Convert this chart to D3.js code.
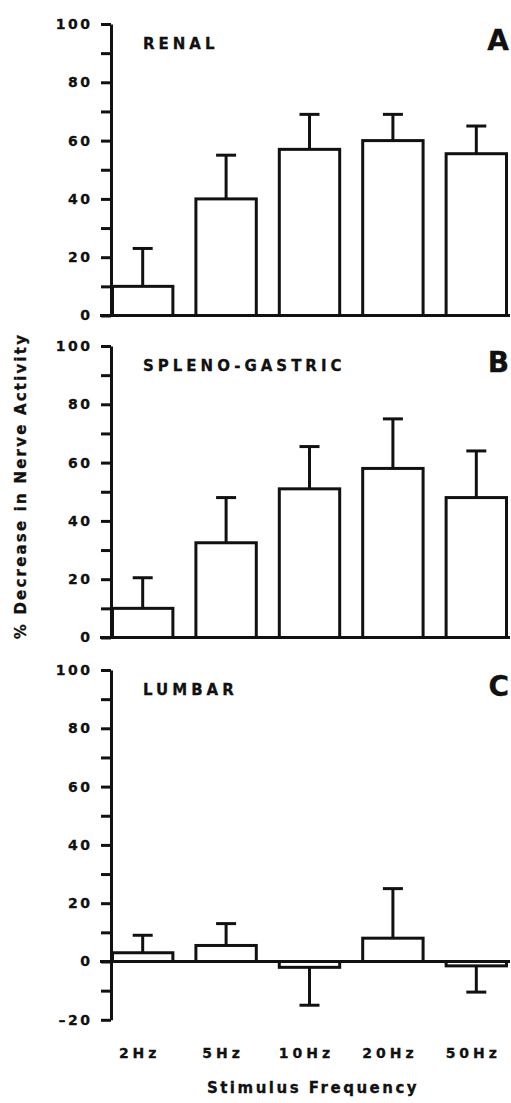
<!DOCTYPE html>
<html>
<head>
<meta charset="utf-8">
<script src="https://cdn.jsdelivr.net/npm/d3@7"></script>
<style>
  body { margin: 0; background: #fff; }
  text { font-family: "DejaVu Sans", sans-serif; font-weight: bold; fill: #111; stroke: #111; stroke-width: 0.3px; }
</style>
</head>
<body>
<svg class="fig" width="511" height="1103"></svg>
<script>
// stimulus frequencies
var categories = ["2Hz", "5Hz", "10Hz", "20Hz", "50Hz"];

// % decrease in nerve activity, mean and error (SE) per panel
var renalMean = [10, 40, 57, 60, 55.5];
var renalErr = [13, 15, 12, 9, 9.5];
var splenoMean = [10, 32.5, 51, 58, 48];
var splenoErr = [10.5, 15.5, 14.5, 17, 16];
var lumbarMean = [3, 5.5, -2, 8, -1.5];
var lumbarErr = [6, 7.5, 13, 17, 9];

var panelNames = ["RENAL", "SPLENO-GASTRIC", "LUMBAR"];
var panelLetters = ["A", "B", "C"];
var tickLabelsAB = [0, 20, 40, 60, 80, 100];
var tickLabelsC = [-20, 0, 20, 40, 60, 80, 100];

var svg = d3.select(".fig");

var axisX = 111;
var pxPerUnit = 2.915;

var x = d3.scaleBand()
    .domain(categories)
    .range([axisX, 508])
    .paddingInner(0.24)
    .paddingOuter(0);

var panels = [
    { top: 24, min: 0, mean: renalMean, err: renalErr, labels: tickLabelsAB },
    { top: 346, min: 0, mean: splenoMean, err: splenoErr, labels: tickLabelsAB },
    { top: 670, min: -20, mean: lumbarMean, err: lumbarErr, labels: tickLabelsC }
];

panels.forEach(function (p, i) {
    var y = d3.scaleLinear()
        .domain([p.min, 100])
        .range([p.top + (100 - p.min) * pxPerUnit, p.top]);

    var g = svg.append("g");

    // y axis, ticks every 10, labels every 20
    var ax = g.append("g")
        .attr("transform", `translate(${axisX}, 0)`)
        .call(d3.axisLeft(y)
            .tickValues(d3.range(p.min, 101, 10))
            .tickSize(10)
            .tickSizeOuter(0)
            .tickPadding(8.5)
            .tickFormat(d => p.labels.indexOf(d) >= 0 ? d : ""));
    ax.select(".domain").attr("stroke", "#111").attr("stroke-width", 3);
    ax.selectAll(".tick line").attr("stroke", "#111").attr("stroke-width", 3);
    ax.selectAll(".tick text")
        .attr("font-size", "14px")
        .style("letter-spacing", "2.5px")
        .text(d => p.labels.indexOf(d) >= 0 ? (d < 0 ? "\u2013" + Math.abs(d) : d) : "");

    // zero line
    g.append("line")
        .attr("x1", axisX - 11)
        .attr("x2", 510)
        .attr("y1", y(0))
        .attr("y2", y(0))
        .attr("stroke", "#111")
        .attr("stroke-width", 3);

    // bars
    g.selectAll(".bar")
        .data(p.mean)
        .join("rect")
        .attr("class", "bar")
        .attr("x", (d, j) => x(categories[j]) + 1.5)
        .attr("y", d => Math.min(y(d), y(0)))
        .attr("width", x.bandwidth() - 3)
        .attr("height", d => Math.abs(y(d) - y(0)))
        .attr("fill", "#fff")
        .attr("stroke", "#111")
        .attr("stroke-width", 3);

    // error bars, one-sided in the direction of the bar
    var ends = p.mean.map((d, j) => d >= 0 ? d + p.err[j] : d - p.err[j]);
    g.selectAll(".errLine")
        .data(p.mean)
        .join("line")
        .attr("class", "errLine")
        .attr("x1", (d, j) => x(categories[j]) + x.bandwidth() / 2)
        .attr("x2", (d, j) => x(categories[j]) + x.bandwidth() / 2)
        .attr("y1", d => y(d))
        .attr("y2", (d, j) => y(ends[j]))
        .attr("stroke", "#111")
        .attr("stroke-width", 3);
    g.selectAll(".errCap")
        .data(ends)
        .join("line")
        .attr("class", "errCap")
        .attr("x1", (d, j) => x(categories[j]) + x.bandwidth() / 2 - 10)
        .attr("x2", (d, j) => x(categories[j]) + x.bandwidth() / 2 + 10)
        .attr("y1", d => y(d))
        .attr("y2", d => y(d))
        .attr("stroke", "#111")
        .attr("stroke-width", 3);

    // panel name and letter
    g.append("text")
        .attr("x", 143)
        .attr("y", y(100) + 25)
        .attr("font-size", "15px")
        .style("letter-spacing", "4px")
        .text(panelNames[i]);
    g.append("text")
        .attr("x", 509)
        .attr("y", y(100) + 26)
        .attr("text-anchor", "end")
        .attr("font-size", "28px")
        .text(panelLetters[i]);
});

// x tick labels under the last panel
svg.selectAll(".xlab")
    .data(categories)
    .join("text")
    .attr("class", "xlab")
    .attr("x", d => x(d) + x.bandwidth() / 2 - 3)
    .attr("y", 1058)
    .attr("text-anchor", "middle")
    .attr("font-size", "14px")
    .style("letter-spacing", "4px")
    .text(d => d);

svg.append("text")
    .attr("x", 313)
    .attr("y", 1093)
    .attr("text-anchor", "middle")
    .attr("font-size", "15px")
    .style("letter-spacing", "2.5px")
    .text("Stimulus Frequency");

svg.append("text")
    .attr("transform", "translate(26, 486) rotate(-90)")
    .attr("text-anchor", "middle")
    .attr("font-size", "15px")
    .style("letter-spacing", "2.2px")
    .text("% Decrease in Nerve Activity");
</script>
</body>
</html>
